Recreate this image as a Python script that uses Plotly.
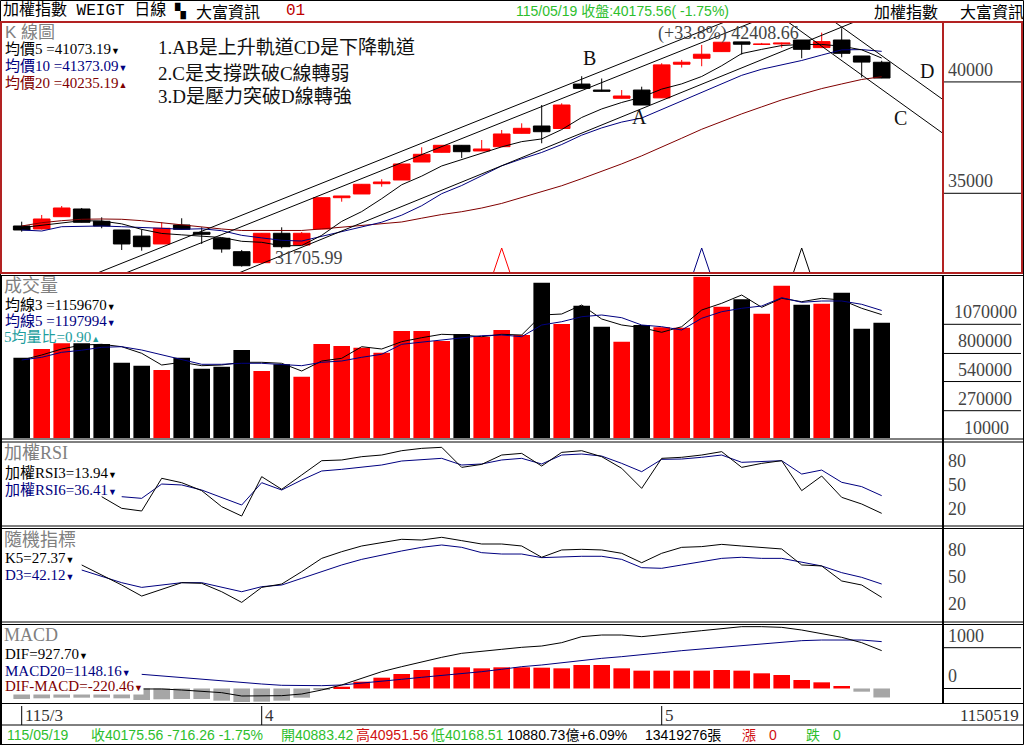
import plotly.graph_objects as go

W, H = 1024, 745

# ---------------- data ----------------
opens = [33532, 33397, 33949, 34295, 33743, 33352, 33078, 32724, 33577, 33249,
         32980, 32378, 31884, 33204, 32679, 33397, 34802, 34969, 35431, 35597,
         36405, 36841, 37155, 36900, 37092, 37693, 38021, 37909, 39905, 39636,
         39266, 39636, 39283, 40795, 41064, 41361, 41797, 41683, 41706, 41883,
         41540, 41883, 41165, 40883.42]
highs = [33725, 34026, 34430, 34340, 33922, 33352, 33384, 33698, 33878, 33473,
         32980, 32454, 33204, 33473, 33262, 34802, 34879, 35404, 35629, 36316,
         37065, 37155, 37155, 37393, 37842, 38142, 38964, 39040, 40257, 40154,
         39636, 39786, 40840, 40988, 41661, 41783, 41797, 41751, 41765, 41883,
         42214, 42408.66, 41165, 40951.56]
lows = [33276, 33375, 33949, 33698, 33429, 32454, 32423, 32724, 33384, 32724,
        32333, 31705.99, 31884, 32530, 32679, 33397, 34623, 34969, 35296, 35597,
        36405, 36841, 36585, 36900, 37092, 37693, 37245, 37909, 39712, 39578,
        39266, 38964, 39283, 40647, 40705, 41361, 41226, 41661, 41540, 41061,
        41540, 41106, 40200, 40168.51]
closes = [33352, 33846, 34340, 33698, 33532, 32724, 32602, 33429, 33384, 33159,
          32499, 31749, 33204, 32602, 33204, 34802, 34879, 35404, 35507, 36316,
          36751, 37155, 36868, 36989, 37663, 37918, 37765, 38964, 39712, 39578,
          39369, 38964, 40765, 40885, 41244, 41783, 41693, 41706, 41751, 41465,
          41810, 41286, 40892, 40175.56]

ma5 = [33460, 33560, 33680, 33770, 33754, 33628, 33379, 33197, 33134, 33060,
       33015, 32844, 32799, 32643, 32652, 33112, 33738, 34178, 34759, 35382,
       35771, 36227, 36519, 36816, 37085, 37319, 37441, 37860, 38404, 38787,
       39078, 39317, 39678, 39912, 40245, 40728, 41274, 41462, 41635, 41680,
       41685, 41604, 41441, 41073.19]
ma10 = [33352, 33307, 33500, 33532, 33532, 33500, 33473, 33429, 33384, 33407,
        33321, 33112, 32998, 32888, 32856, 33063, 33291, 33489, 33701, 34017,
        34442, 34982, 35349, 35788, 36233, 36545, 36834, 37190, 37610, 37936,
        38198, 38379, 38769, 39158, 39516, 39903, 40296, 40570, 40774, 40963,
        41207, 41439, 41452, 41373.09]
ma20 = [33532, 33680, 33770, 33833, 33846, 33833, 33770, 33680, 33577, 33473,
        33397, 33330, 33320, 33320, 33330, 33400, 33480, 33560, 33640, 33712,
        33882, 34047, 34173, 34338, 34545, 34804, 35062, 35339, 35656, 35976,
        36320, 36681, 37059, 37473, 37875, 38224, 38565, 38880, 39192, 39449,
        39702, 39909, 40110, 40235.19]

volume = [760700, 841000, 894000, 894000, 887600, 714400, 686700, 646800, 760700, 658900,
          677400, 832000, 637600, 699600, 584800, 887600, 869000, 853300, 807000, 1007900,
          1007900, 915400, 980000, 955000, 1017000, 971000, 1455000, 1072700, 1242000, 1047800,
          908900, 1063500, 1042000, 1038500, 1510700, 1233000, 1301500, 1168000, 1427000, 1251500,
          1260700, 1362600, 1029000, 1084800]
vol_ma3 = [739400, 785700, 841300, 878300, 884800, 862600, 801500, 693100, 718100, 686700,
           693100, 718100, 718100, 708900, 637600, 730200, 755200, 862600, 841300, 908900,
           945900, 977400, 970900, 955200, 977400, 970900, 1156100, 1165400, 1248700, 1119100,
           1063500, 1038500, 995900, 1047800, 1202400, 1264400, 1341300, 1227400, 1310700, 1279300,
           1310700, 1295000, 1218100, 1159670]
vol_ma5 = [739400, 764400, 810700, 830000, 857000, 862600, 832000, 785700, 739400, 699600,
           699600, 708900, 708900, 699600, 686700, 718100, 730200, 764400, 792200, 884800,
           903300, 921800, 945900, 964400, 970900, 955200, 1063500, 1094000, 1140300, 1156100,
           1131100, 1063500, 1047800, 1017200, 1125600, 1186600, 1218100, 1239400, 1316300, 1273700,
           1285700, 1285700, 1255200, 1197994]

rsi3 = [None] * 4 + [35.1, 20.3, 16.9, 58.5, 52.9, 42.8, 22.4, 10.5, 60.6, 44.5,
                     62.7, 80.9, 81.8, 86.0, 88.1, 93.6, 96.6, 97.9, 72.4, 76.2,
                     88.1, 90.2, 74.1, 91.5, 93.6, 86.0, 71.2, 45.7, 83.9, 85.2,
                     88.1, 92.4, 72.4, 77.5, 80.9, 42.8, 61.4, 34.3, 25.8, 13.94]
rsi6 = [None] * 5 + [35.1, 33.0, 51.2, 50.0, 43.6, 34.3, 24.5, 52.9, 43.6, 56.3,
                     67.8, 69.9, 72.4, 75.4, 80.5, 81.8, 83.9, 75.4, 76.7, 81.8,
                     83.9, 76.7, 88.1, 89.4, 86.8, 77.5, 66.9, 82.6, 83.0, 85.2,
                     88.1, 78.8, 79.6, 80.9, 63.9, 69.0, 53.4, 47.9, 36.41]
k5 = [None] * 3 + [63.2, 52.1, 41.0, 28.8, 36.2, 43.6, 42.9, 33.6, 21.8, 38.4,
                   42.1, 55.8, 70.5, 77.9, 84.2, 87.9, 91.6, 90.8, 93.8, 90.1,
                   86.4, 86.4, 84.2, 71.7, 79.8, 80.5, 79.8, 76.1, 65.7, 76.1,
                   82.7, 83.5, 86.0, 84.2, 82.4, 80.9, 63.2, 62.1, 45.5, 41.0, 27.37]
d3 = [None] * 3 + [57.6, 50.2, 43.6, 38.4, 41.0, 43.6, 43.6, 38.4, 33.6, 39.2,
                   41.0, 48.4, 55.8, 63.2, 69.4, 74.2, 78.7, 82.7, 85.3, 82.7,
                   76.8, 75.3, 75.3, 71.3, 72.4, 72.8, 72.8, 69.4, 60.2, 59.5,
                   63.2, 66.9, 70.5, 71.7, 70.5, 70.5, 66.1, 62.1, 54.7, 49.5, 42.12]
dif = [None] * 6 + [-12, -12, -37, -61, -102, -184, -184, -176, -135, -37,
                    86, 249, 412, 535, 657, 764, 862, 919, 960, 1009,
                    1041, 1123, 1270, 1311, 1311, 1270, 1311, 1368, 1417, 1474,
                    1515, 1515, 1499, 1433, 1352, 1254, 1123, 927.70]
macd20 = [None] * 6 + [347, 306, 265, 225, 184, 143, 110, 78, 69, 69,
                       86, 127, 167, 225, 274, 315, 355, 412, 470, 535,
                       576, 633, 682, 739, 780, 821, 877, 927, 968, 1025,
                       1066, 1107, 1148, 1172, 1188, 1188, 1188, 1148.16]
osc = [-257, -241, -225, -225, -225, -241, -282, -265, -257, -257,
       -298, -339, -323, -298, -225, -25, 44, 167, 265, 355,
       453, 519, 519, 494, 519, 519, 510, 494, 576, 576,
       494, 437, 437, 437, 437, 453, 437, 372, 331, 208,
       151, 61, -78, -220.46]

date_tick_idx = [0, 12, 32]
date_tick_labels = ["115/3", "4", "5"]
last_date_label = "1150519"

signal_idx = [24, 34, 39]

# hand-drawn trend lines: (index0, price0, index1, price1)
trend_lines = [
    (3.75, 31408, 35.27, 42736),
    (5.165, 31408, 36.70, 42736),
    (10.815, 31408, 41.75, 42736),
    (38.25, 42736, 46.07, 37685),
    (40.58, 42736, 46.07, 39203),
]

k_ticks = [40000, 35000]
vol_ticks = [1070000, 800000, 540000, 270000]
vol_base_tick = 10000
osc_ticks = [80, 50, 20]
macd_ticks = [1000, 0]

# ---------------- styles ----------------
RED = "#FF0000"
BLACK = "#000000"
NAVY = "#000080"
DRED = "#800000"
GRAYBAR = "#A6A6A6"
FRAME_RED = "#B22222"
GREEN = "#2DBE2D"
TEAL = "#1E9E9E"
TITLE = "#808080"
AXT = "#444444"
SERIF = "Liberation Serif, Noto Sans CJK TC"
SANS = "Liberation Sans, Noto Sans CJK TC"
CJK = "Noto Sans CJK TC"

n = len(closes)
idx = list(range(n))
up = [closes[i] >= opens[i] for i in idx]

X_RANGE = [-0.985, 46.065]
X_DOM = [2 / W, 943 / W]
panels = [  # (top px, bottom px, y range)
    (21, 273, [31421, 42736]),
    (276, 438, [17230, 1517200]),
    (443, 525, [-0.9, 103.4]),
    (528, 622, [0.1, 104.1]),
    (625, 702, [-331, 1556]),
]

fig = go.Figure()
layout = dict(width=W, height=H, margin=dict(l=0, r=0, t=0, b=0, pad=0),
              paper_bgcolor="white", plot_bgcolor="white", showlegend=False,
              barmode="overlay", hovermode=False)
for k, (top, bot, rng) in enumerate(panels, 1):
    sfx = "" if k == 1 else str(k)
    layout["xaxis" + sfx] = dict(domain=X_DOM, range=X_RANGE, anchor="y" + sfx,
                                 visible=False, fixedrange=True)
    layout["yaxis" + sfx] = dict(domain=[1 - bot / H, 1 - top / H], range=rng,
                                 anchor="x" + sfx, visible=False, fixedrange=True)


def ax(k):
    s = "" if k == 1 else str(k)
    return dict(xaxis="x" + s, yaxis="y" + s)


def line(x, y, color, k, width=1):
    fig.add_trace(go.Scatter(x=x, y=y, mode="lines", line=dict(color=color, width=width),
                             hoverinfo="skip", connectgaps=False, **ax(k)))


# ---- K panel ----
for mask_val, col in ((True, RED), (False, BLACK)):
    xs, ys = [], []
    for i in idx:
        if up[i] == mask_val:
            xs += [i, i, None]
            ys += [lows[i], highs[i], None]
    line(xs, ys, col, 1)
    bx = [i for i in idx if up[i] == mask_val]
    fig.add_trace(go.Bar(x=bx, base=[min(opens[i], closes[i]) for i in bx],
                         y=[abs(closes[i] - opens[i]) for i in bx], width=0.83,
                         marker=dict(color=col, line=dict(color=col, width=1)),
                         hoverinfo="skip", **ax(1)))
line(idx, ma20, DRED, 1)
line(idx, ma10, NAVY, 1)
line(idx, ma5, BLACK, 1)
for (i0, p0, i1, p1) in trend_lines:
    line([i0, i1], [p0, p1], BLACK, 1)
k_lo = panels[0][2][0]
tri_h = (panels[0][2][1] - panels[0][2][0]) * 25 / (panels[0][1] - panels[0][0])
for si, col in zip(signal_idx, [RED, NAVY, BLACK]):
    line([si - 0.42, si, si + 0.42, si - 0.42], [k_lo, k_lo + tri_h, k_lo, k_lo], col, 1)

# ---- Volume ----
fig.add_trace(go.Bar(x=idx, y=volume, width=0.83,
                     marker=dict(color=[RED if u else BLACK for u in up], line=dict(width=0)),
                     hoverinfo="skip", **ax(2)))
line(idx, vol_ma3, BLACK, 2)
line(idx, vol_ma5, NAVY, 2)

# ---- RSI ----
line(idx, rsi6, NAVY, 3)
line(idx, rsi3, BLACK, 3)
# ---- KD ----
line(idx, d3, NAVY, 4)
line(idx, k5, BLACK, 4)
# ---- MACD ----
fig.add_trace(go.Bar(x=idx, y=osc, width=0.83,
                     marker=dict(color=[RED if v >= 0 else GRAYBAR for v in osc], line=dict(width=0)),
                     hoverinfo="skip", **ax(5)))
line(idx, macd20, NAVY, 5)
line(idx, dif, BLACK, 5)

# ---------------- annotations ----------------
ann = []
shapes = []
TDN = '<span style="font-size:9px">▼</span>'
TUP = '<span style="font-size:9px">▲</span>'


def label(x, y, text, color=BLACK, size=15, family=SERIF, xanchor="left", yanchor="middle", bg=None):
    d = dict(x=x / W, y=1 - y / H, xref="paper", yref="paper", text=text, showarrow=False,
             xanchor=xanchor, yanchor=yanchor, borderpad=0,
             font=dict(color=color, size=size, family=family))
    if bg:
        d["bgcolor"] = bg
    ann.append(d)


def hline(y, x0=0, x1=W, color=BLACK, width=1):
    shapes.append(dict(type="line", xref="paper", yref="paper", x0=x0 / W, x1=x1 / W,
                       y0=1 - y / H, y1=1 - y / H, line=dict(color=color, width=width)))


def vline(x, y0, y1, color=BLACK, width=1):
    shapes.append(dict(type="line", xref="paper", yref="paper", x0=x / W, x1=x / W,
                       y0=1 - y0 / H, y1=1 - y1 / H, line=dict(color=color, width=width)))


# header
label(2, 11, "加權指數 WEIGT 日線", size=16, family="Liberation Mono, Noto Sans CJK TC")
label(173, 11, "▚", size=14, family="DejaVu Sans")
label(195, 11, "大富資訊", size=16, family=CJK)
label(285, 11, "01", color="#C00000", size=16, family="Liberation Mono")
label(515, 11, "115/05/19 收盤:40175.56( -1.75%)", color=GREEN, size=14, family=SANS)
label(873, 11, "加權指數", size=16, family=CJK)
label(959, 11, "大富資訊", size=16, family=CJK)

# K legend
label(4, 32, "K 線圖", color=TITLE, size=17, family=SANS)
label(4, 49, "均價5 =41073.19" + TDN, color=BLACK)
label(4, 66, "均價10 =41373.09" + TDN, color=NAVY)
label(4, 83, "均價20 =40235.19" + TUP, color=DRED)
label(157, 48, "1.AB是上升軌道CD是下降軌道", size=19, color="#111111")
label(157, 73, "2.C是支撐跌破C線轉弱", size=19, color="#111111")
label(157, 97, "3.D是壓力突破D線轉強", size=19, color="#111111")
for t, xx, yy in (("B", 589, 58), ("A", 639, 117), ("C", 900, 118), ("D", 927, 71)):
    label(xx, yy, t, size=20, family="Liberation Serif", xanchor="center", color="#111111")

low_i = min(idx, key=lambda i: lows[i])
high_i = max(idx, key=lambda i: highs[i])
pct = (highs[high_i] / lows[low_i] - 1) * 100
ann.append(dict(x=low_i, y=lows[low_i], xref="x", yref="y", text=f"{lows[low_i]:.2f}",
                showarrow=False, xanchor="left", yanchor="middle", xshift=32, yshift=9,
                borderpad=0, font=dict(color=AXT, size=18, family="Liberation Serif")))
ann.append(dict(x=high_i, y=highs[high_i], xref="x", yref="y",
                text=f"(+{pct:.1f}%) {highs[high_i]:.2f}",
                showarrow=False, xanchor="right", yanchor="middle", xshift=-42, yshift=-5,
                borderpad=0, font=dict(color=AXT, size=18, family="Liberation Serif")))

# volume legend
label(3, 286, "成交量", color=TITLE, size=18, family=SANS)
label(4, 305, "均線3 =1159670" + TDN, color=BLACK)
label(4, 321, "均線5 =1197994" + TDN, color=NAVY)
label(3, 337, "5均量比=0.90" + TUP, color=TEAL)
# RSI legend
label(3, 453, "加權RSI", color=TITLE, size=18, family=SERIF)
label(4, 473, "加權RSI3=13.94" + TDN, color=BLACK)
label(4, 490, "加權RSI6=36.41" + TDN, color=NAVY)
# KD legend
label(3, 540, "隨機指標", color=TITLE, size=18, family=SANS)
label(4, 558, "K5=27.37" + TDN, color=BLACK)
label(4, 575, "D3=42.12" + TDN, color=NAVY)
# MACD legend
label(3, 635, "MACD", color=TITLE, size=18, family=SERIF)
label(4, 654, "DIF=927.70" + TDN, color=BLACK)
label(4, 671, "MACD20=1148.16" + TDN, color=NAVY, bg="white")
label(4, 686, "DIF-MACD=-220.46" + TDN, color=DRED, bg="white")


# right-side scales
def axis_label(yref, value, text, x, xanchor, yanchor, shift, underline):
    ann.append(dict(x=x / W, xref="paper", y=value, yref=yref, text=text, showarrow=False,
                    xanchor=xanchor, yanchor=yanchor, yshift=shift, borderpad=0,
                    font=dict(color=AXT, size=18, family="Liberation Serif")))
    if underline:
        shapes.append(dict(type="line", xref="paper", yref=yref, x0=944 / W, x1=1021 / W,
                           y0=value, y1=value, line=dict(color=BLACK, width=1)))


for v in k_ticks:
    axis_label("y", v, str(v), 947, "left", "bottom", 1, True)
for v in vol_ticks:
    axis_label("y2", v, str(v), 985, "center", "bottom", 1, True)
# the lowest volume label sits at the bottom edge of the panel
label(986, 428, str(vol_base_tick), color=AXT, size=18, family="Liberation Serif", xanchor="center")
for v in osc_ticks:
    axis_label("y3", v, str(v), 947, "left", "middle", 0, False)
    axis_label("y4", v, str(v), 947, "left", "middle", 0, False)
for v in macd_ticks:
    axis_label("y5", v, str(v), 947, "left", "bottom", 1, True)

# date row
for di, dl in zip(date_tick_idx, date_tick_labels):
    shapes.append(dict(type="line", xref="x5", yref="paper", x0=di, x1=di,
                       y0=1 - 725 / H, y1=1 - 706 / H, line=dict(color=BLACK, width=1)))
    ann.append(dict(x=di, y=1 - 715 / H, xref="x5", yref="paper", text=dl, showarrow=False,
                    xanchor="left", yanchor="middle", xshift=2, borderpad=0,
                    font=dict(color="#333333", size=17, family="Liberation Serif")))
label(1020, 715, last_date_label, color="#333333", size=17, family="Liberation Serif", xanchor="right")

# status bar
for xx, t, c in ((6, "115/05/19", GREEN), (90, "收40175.56 -716.26 -1.75%", GREEN),
                 (280, "開40883.42", GREEN), (355, "高40951.56", "#D01010"),
                 (430, "低40168.51", GREEN), (506, "10880.73億+6.09%", BLACK),
                 (644, "13419276張", BLACK), (741, "漲", "#D01010"), (768, "0", "#D01010"),
                 (805, "跌", GREEN), (832, "0", GREEN)):
    label(xx, 735, t, color=c, size=14, family=SANS)

# frames
shapes.append(dict(type="rect", xref="paper", yref="paper", x0=0.5 / W, x1=1023.5 / W,
                   y0=1 - 744.5 / H, y1=1 - 0.5 / H, line=dict(color=BLACK, width=1)))
shapes.append(dict(type="rect", xref="paper", yref="paper", x0=1 / W, x1=1022 / W,
                   y0=1 - 273 / H, y1=1 - 22 / H, line=dict(color=FRAME_RED, width=2)))
vline(943, 22, 273, FRAME_RED, 2)
for yy in (275.5, 439, 442, 526, 528.5, 622, 624.5, 703.5, 725):
    hline(yy)
vline(943, 275, 703.5, BLACK, 2)
vline(1, 275, 745, BLACK, 2)

layout["annotations"] = ann
layout["shapes"] = shapes
fig.update_layout(**layout)
fig.write_html("out.html")
